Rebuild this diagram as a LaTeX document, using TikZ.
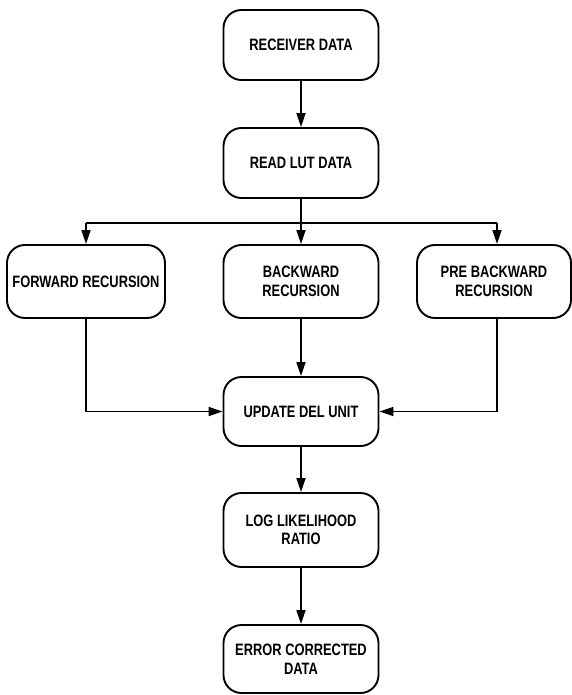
\documentclass[tikz,border=0pt]{standalone}
\usepackage{fontspec}
\setmainfont[FakeStretch=0.78]{Liberation Sans}
\usetikzlibrary{arrows.meta}

\begin{document}
\begin{tikzpicture}[x=1pt, y=-1pt, >={Triangle[length=14pt,width=9pt]},
    caixa/.style={draw, line width=1.9pt, rectangle, rounded corners=18pt, align=center,
        minimum width=155pt, minimum height=70pt, inner sep=2pt,
        font=\fontsize{16.5}{18.5}\selectfont\bfseries},
    seta/.style={->, line width=1.7pt}]

\useasboundingbox (0,0) rectangle (572,695);

% main column
\node[caixa] (recv) at (301,45) {RECEIVER DATA};
\node[caixa] (lut) at (301,163) {READ LUT DATA};
\draw[seta] (recv) -- (lut);

% split into the three recursions
\node[caixa, minimum width=158pt, minimum height=73pt] (fwd) at (86,281.5) {FORWARD RECURSION};
\node[caixa, minimum height=73pt] (bwd) at (301,281.5) {BACKWARD\\RECURSION};
\node[caixa, minimum width=154pt, minimum height=73pt] (pre) at (494,281.5) {PRE BACKWARD\\RECURSION};

\coordinate (splitL) at (86,223);
\coordinate (splitR) at (497,223);
\draw[line width=1.7pt] (splitL) -- (splitR);
\draw[seta] (lut) -- (bwd);
\draw[seta] (splitL) -- (fwd);
\draw[seta] (splitR) -- (splitR |- pre.north);

% merge
\node[caixa, minimum height=69pt] (upd) at (301,411.5) {UPDATE DEL UNIT};
\draw[seta] (bwd) -- (upd);
\draw[seta] (fwd.south) |- (upd.west);
\draw[seta] (splitR |- pre.south) |- (upd.east);

% output stages
\node[caixa, minimum height=74pt] (llr) at (301,530) {LOG LIKELIHOOD\\RATIO};
\node[caixa, minimum height=68pt] (err) at (301,659) {ERROR CORRECTED\\DATA};
\draw[seta] (upd) -- (llr);
\draw[seta] (llr) -- (err);

\end{tikzpicture}
\end{document}
